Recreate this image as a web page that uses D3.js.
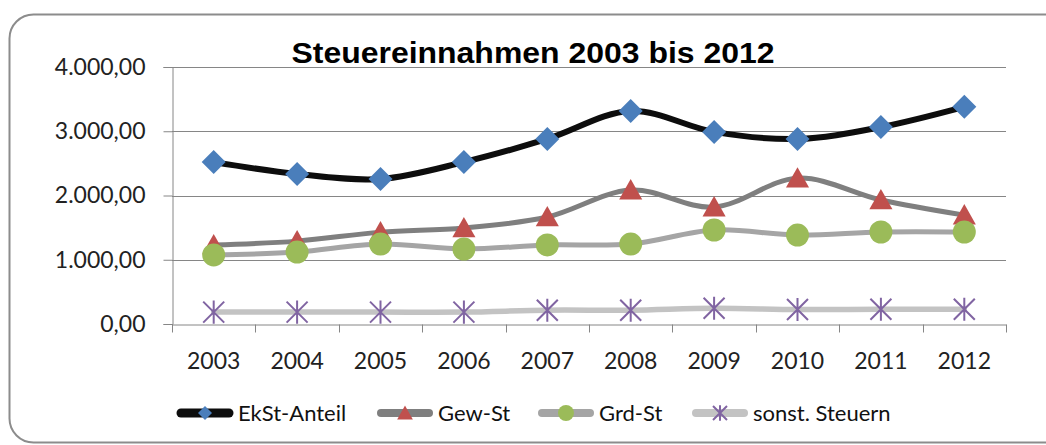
<!DOCTYPE html>
<html><head><meta charset="utf-8">
<script src="https://cdn.jsdelivr.net/npm/d3@7"></script>
<style>body{margin:0;background:#fff}</style></head>
<body><svg id="c" width="1046" height="445"></svg>
<script>
const years=["2003","2004","2005","2006","2007","2008","2009","2010","2011","2012"];
const ekst=[2520,2335,2257,2520,2880,3315,2990,2880,3065,3380];
const gew=[1230,1290,1430,1495,1665,2085,1820,2270,1930,1695];
const grd=[1075,1120,1245,1167,1230,1245,1463,1385,1432,1432];
const sonst=[185,185,185,185,215,215,245,225,230,230];
const yTicks=[0,1000,2000,3000,4000];
const seriesNames=["EkSt-Anteil","Gew-St","Grd-St","sonst. Steuern"];
const titleText="Steuereinnahmen 2003 bis 2012";

const svg=d3.select("#c");
const L=172,R=1006,T=67,B=324;
const x=d3.scaleBand().domain(years).range([L,R]);
const cx=d=>x(d)+x.bandwidth()/2;
const y=d3.scaleLinear().domain([0,4000]).range([B,T]);
const de=d3.formatLocale({decimal:",",thousands:".",grouping:[3],currency:["","€"]});
const fmt=de.format(",.2f");

// frame
svg.append("rect").attr("x",9.5).attr("y",14.5).attr("width",1060).attr("height",428)
  .attr("rx",24).attr("fill","#fff").attr("stroke","#8c8c8c").attr("stroke-width",2);

// gridlines
svg.append("g").selectAll("line").data(yTicks.filter(d=>d>0)).join("line")
  .attr("x1",L).attr("x2",R).attr("y1",d=>Math.round(y(d))+0.5).attr("y2",d=>Math.round(y(d))+0.5)
  .attr("stroke","#868686").attr("stroke-width",1);

// y axis
const ya=svg.append("g").attr("transform",`translate(${L+0.5},0)`)
  .call(d3.axisLeft(y).tickValues(yTicks).tickSize(9).tickPadding(18).tickFormat(fmt));
ya.select(".domain").attr("stroke","#868686");
ya.selectAll(".tick line").attr("stroke","#868686");
ya.selectAll("text").attr("font-family","Lato, sans-serif").attr("font-size",23).attr("fill","#222");

// x axis
const xa=svg.append("g").attr("transform",`translate(0,${B+0.5})`)
  .call(d3.axisBottom(x).tickSize(0).tickPadding(28));
xa.select(".domain").attr("stroke","#868686");
xa.selectAll("text").attr("font-family","Lato, sans-serif").attr("font-size",23).attr("fill","#222");
xa.selectAll(".bt").data(years.map(d=>x(d)).concat([R])).join("line")
  .attr("x1",d=>Math.round(d)+0.5).attr("x2",d=>Math.round(d)+0.5).attr("y1",0).attr("y2",8)
  .attr("stroke","#868686");

// title
svg.append("text").attr("x",533).attr("y",63).attr("text-anchor","middle")
  .attr("font-family","Liberation Sans, Arial, sans-serif").attr("font-weight","bold")
  .attr("font-size",29).attr("fill","#000")
  .attr("textLength",483).attr("lengthAdjust","spacingAndGlyphs").text(titleText);

const series=[
 {name:seriesNames[0],vals:ekst,color:"#0d0d0d",w:6,marker:"diamond",mc:"#4a7ebb"},
 {name:seriesNames[1],vals:gew,color:"#7f7f7f",w:5,marker:"triangle",mc:"#c0504d"},
 {name:seriesNames[2],vals:grd,color:"#a5a5a5",w:5,marker:"circle",mc:"#9bbb59"},
 {name:seriesNames[3],vals:sonst,color:"#c3c3c3",w:5.5,marker:"star",mc:"#8064a2"}
];
const line=d3.line().curve(d3.curveCardinal.tension(0)).x((d,i)=>cx(years[i])).y(d=>y(d));

function drawMarker(g,type,color,px,py,s){
  if(type==="diamond"){
    g.append("path").attr("d",`M${px},${py-s}L${px+s},${py}L${px},${py+s}L${px-s},${py}Z`).attr("fill",color);
  }else if(type==="triangle"){
    g.append("path").attr("d",`M${px},${py-s}L${px+s*1.05},${py+s*0.85}L${px-s*1.05},${py+s*0.85}Z`).attr("fill",color);
  }else if(type==="circle"){
    g.append("circle").attr("cx",px).attr("cy",py).attr("r",s).attr("fill",color);
  }else{
    const p=`M${px-s},${py-s}L${px+s},${py+s}M${px+s},${py-s}L${px-s},${py+s}M${px},${py-s*1.1}L${px},${py+s*1.1}`;
    g.append("path").attr("d",p).attr("stroke",color).attr("stroke-width",2).attr("fill","none");
  }
}
const msize={diamond:12,triangle:11,circle:11.5,star:10.5};
series.forEach(s=>{
  const g=svg.append("g");
  g.append("path").attr("d",line(s.vals)).attr("fill","none").attr("stroke",s.color)
    .attr("stroke-width",s.w).attr("stroke-linejoin","round").attr("stroke-linecap","round");
  s.vals.forEach((v,i)=>drawMarker(g,s.marker,s.mc,cx(years[i]),y(v),msize[s.marker]));
});

// legend
const legX=[177,377,538,692];
const lsize={diamond:7,triangle:7.5,circle:8,star:7};
const lg=svg.append("g");
series.forEach((s,i)=>{
  const x0=legX[i],ly=413;
  lg.append("line").attr("x1",x0+4).attr("x2",x0+52).attr("y1",ly).attr("y2",ly)
    .attr("stroke",s.color).attr("stroke-width",i===0?9:8).attr("stroke-linecap","round");
  drawMarker(lg,s.marker,s.mc,x0+28,ly,lsize[s.marker]);
  lg.append("text").attr("x",x0+61).attr("y",ly).attr("dy","0.35em")
    .attr("font-family","Lato, sans-serif").attr("font-size",22).attr("fill","#111").text(s.name);
});
</script></body></html>
